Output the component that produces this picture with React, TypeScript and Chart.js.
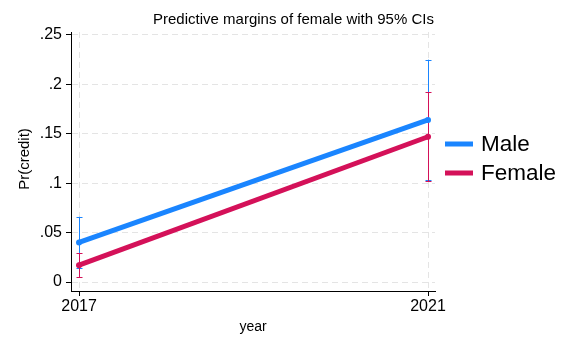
import React, { useEffect, useRef } from "react";
import { Chart, registerables } from "chart.js";

Chart.register(...registerables);

const years = [2017, 2021];
const seriesNames = ["Male", "Female"];
const maleMargin = [0.04, 0.164];
const maleLower = [0.014, 0.103];
const maleUpper = [0.066, 0.225];
const femaleMargin = [0.017, 0.147];
const femaleLower = [0.005, 0.102];
const femaleUpper = [0.029, 0.192];
const yTickValues = [0, 0.05, 0.1, 0.15, 0.2, 0.25];
const yTickLabels = ["0", ".05", ".1", ".15", ".2", ".25"];
const xTickLabels = ["2017", "2021"];
const titleText = "Predictive margins of female with 95% CIs";
const xTitle = "year";
const yTitle = "Pr(credit)";

const BLUE = "#1a85ff";
const RED = "#d41159";
const FONT = '"Liberation Sans", Arial, sans-serif';

const ciSets = [
  { lower: maleLower, upper: maleUpper, color: BLUE },
  { lower: femaleLower, upper: femaleUpper, color: RED },
];

const errorBarPlugin = {
  id: "errorBars",
  beforeDatasetsDraw(chart: any) {
    const { ctx, scales } = chart;
    const xs = scales.x;
    const ys = scales.y;
    ctx.save();
    ctx.lineWidth = 1;
    ciSets.forEach((s) => {
      ctx.strokeStyle = s.color;
      years.forEach((yr, i) => {
        const px = Math.round(xs.getPixelForValue(yr)) + 0.5;
        const lo = ys.getPixelForValue(s.lower[i]);
        const hi = ys.getPixelForValue(s.upper[i]);
        ctx.beginPath();
        ctx.moveTo(px, lo);
        ctx.lineTo(px, hi);
        ctx.moveTo(px - 3, Math.round(lo) + 0.5);
        ctx.lineTo(px + 3, Math.round(lo) + 0.5);
        ctx.moveTo(px - 3, Math.round(hi) + 0.5);
        ctx.lineTo(px + 3, Math.round(hi) + 0.5);
        ctx.stroke();
      });
    });
    ctx.restore();
  },
};

const textPlugin = {
  id: "texts",
  afterDraw(chart: any) {
    const { ctx, chartArea } = chart;
    ctx.save();
    ctx.fillStyle = "#000";
    // Title
    ctx.font = `15px ${FONT}`;
    ctx.textAlign = "center";
    ctx.textBaseline = "alphabetic";
    ctx.fillText(titleText, 293.5, 23.5);
    // X title
    ctx.font = `14px ${FONT}`;
    ctx.fillText(xTitle, (chartArea.left + chartArea.right) / 2, 330.5);
    // Y title
    ctx.save();
    ctx.font = `15px ${FONT}`;
    ctx.translate(29, 159);
    ctx.rotate(-Math.PI / 2);
    ctx.fillText(yTitle, 0, 0);
    ctx.restore();
    // Legend
    const colors = [BLUE, RED];
    const rows = [144, 173];
    ctx.textAlign = "left";
    ctx.font = `22.5px ${FONT}`;
    seriesNames.forEach((name, i) => {
      ctx.fillStyle = colors[i];
      ctx.fillRect(445, rows[i] - 2.5, 28, 5);
      ctx.fillStyle = "#000";
      ctx.fillText(name, 481, rows[i] + 6.5);
    });
    ctx.restore();
  },
};

export default function App() {
  const ref = useRef<HTMLCanvasElement | null>(null);
  useEffect(() => {
    document.body.style.margin = "0";
    const canvas = ref.current!;
    const chart = new Chart(canvas, {
      type: "line",
      data: {
        datasets: [
          {
            label: seriesNames[0],
            data: years.map((x, i) => ({ x, y: maleMargin[i] })),
            borderColor: BLUE,
            backgroundColor: BLUE,
            borderWidth: 5,
            pointRadius: 3,
            pointBorderWidth: 0,
            order: 2,
          },
          {
            label: seriesNames[1],
            data: years.map((x, i) => ({ x, y: femaleMargin[i] })),
            borderColor: RED,
            backgroundColor: RED,
            borderWidth: 5,
            pointRadius: 3,
            pointBorderWidth: 0,
            order: 1,
          },
        ],
      },
      options: {
        responsive: false,
        animation: false,
        layout: { padding: { top: 32, right: 138, bottom: 0, left: 0 } },
        plugins: {
          legend: { display: false },
          title: { display: false },
          tooltip: { enabled: false },
        },
        scales: {
          x: {
            type: "linear",
            min: 2016.908,
            max: 2021.08,
            afterFit(scale: any) {
              scale.height = 47;
            },
            afterBuildTicks(scale: any) {
              scale.ticks = years.map((v) => ({ value: v }));
            },
            ticks: {
              callback: (v: any) => xTickLabels[years.indexOf(Number(v))] ?? "",
              font: { family: FONT, size: 16 },
              color: "#000",
              padding: 1,
              maxRotation: 0,
              autoSkip: false,
            },
            grid: {
              color: "#e4e4e4",
              lineWidth: 1,
              tickLength: 5,
              tickColor: "#000",
            },
            border: { color: "#000", width: 1, dash: [6, 4] },
          },
          y: {
            type: "linear",
            min: -0.0091,
            max: 0.253,
            afterFit(scale: any) {
              scale.width = 71;
            },
            afterBuildTicks(scale: any) {
              scale.ticks = yTickValues.map((v) => ({ value: v }));
            },
            ticks: {
              callback: (v: any) => {
                const idx = yTickValues.findIndex((t) => Math.abs(t - Number(v)) < 1e-9);
                return idx >= 0 ? yTickLabels[idx] : "";
              },
              font: { family: FONT, size: 16 },
              color: "#000",
              padding: 4,
              autoSkip: false,
            },
            grid: {
              color: "#e4e4e4",
              lineWidth: 1,
              tickLength: 5,
              tickColor: "#000",
            },
            border: { color: "#000", width: 1, dash: [6, 4] },
          },
        },
      },
      plugins: [errorBarPlugin, textPlugin],
    } as any);
    return () => chart.destroy();
  }, []);
  return (
    <div style={{ position: "absolute", left: 0, top: 0, width: 573, height: 338, background: "#fff" }}>
      <canvas ref={ref} width={573} height={338} style={{ display: "block" }} />
    </div>
  );
}
